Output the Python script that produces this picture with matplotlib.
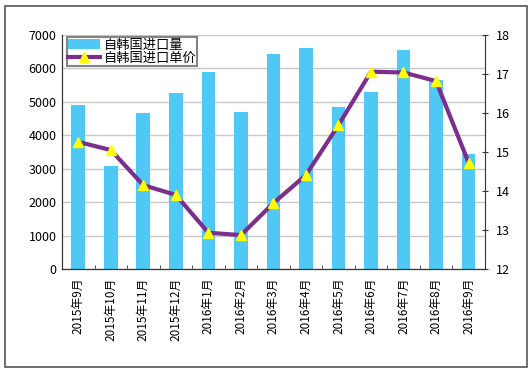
import matplotlib
matplotlib.use("Agg")
import matplotlib.pyplot as plt
from matplotlib.patches import Rectangle

plt.rcParams['font.family'] = ['Noto Sans CJK SC', 'DejaVu Sans']

# Data
months = ['2015年9月', '2015年10月', '2015年11月', '2015年12月', '2016年1月',
          '2016年2月', '2016年3月', '2016年4月', '2016年5月', '2016年6月',
          '2016年7月', '2016年8月', '2016年9月']
volume = [4920, 3080, 4670, 5270, 5890, 4700, 6430, 6610, 4850, 5300, 6550, 5650, 3440]
price = [15.26, 15.05, 14.15, 13.9, 12.93, 12.87, 13.69, 14.41, 15.69, 17.06, 17.04, 16.82, 14.73]

fig = plt.figure(figsize=(5.31, 3.73), dpi=100)
ax = fig.add_axes([0.1168, 0.2788, 0.7962, 0.6272])
ax2 = ax.twinx()

x = list(range(len(months)))
bars = ax.bar(x, volume, width=0.42, color='#4FC8F5', label='自韩国进口量', zorder=2)
line, = ax2.plot(x, price, color='#7B2E8B', linewidth=3, marker='^', markersize=7.5,
                 markerfacecolor='#FFFF00', markeredgecolor='#FFFF00',
                 label='自韩国进口单价', zorder=3)

ax.set_xlim(-0.5, len(months) - 0.5)
ax.set_ylim(0, 7000)
ax.set_yticks(range(0, 7001, 1000))
ax2.set_ylim(12, 18)
ax2.set_yticks(range(12, 19))

ax.grid(axis='y', color='#C8C8C8', linewidth=1, zorder=0)
ax.set_axisbelow(True)

ax.set_xticks(x)
ax.set_xticklabels(months, rotation=90, fontsize=8.5)
ax.tick_params(axis='x', length=0, pad=6)
ax.set_xticks([i + 0.5 for i in x[:-1]], minor=True)
ax.tick_params(axis='x', which='minor', length=3, direction='in', color='#333333')
ax.tick_params(axis='y', length=0, labelsize=9, pad=4)
ax2.tick_params(axis='y', length=4, direction='inout', labelsize=9, pad=6, color='#333333')

for a in (ax, ax2):
    a.spines['top'].set_visible(False)
ax.spines['right'].set_visible(False)
for s in ('left', 'bottom', 'right'):
    ax2.spines[s].set_color('#333333')
ax.spines['left'].set_color('#333333')
ax.spines['bottom'].set_color('#333333')

leg = ax.legend([bars, line], ['自韩国进口量', '自韩国进口单价'], loc='upper left',
                bbox_to_anchor=(0.012, 0.99), fontsize=9.5, frameon=True, fancybox=False,
                borderpad=0.1, labelspacing=0.0, handlelength=2.4, handletextpad=0.25,
                borderaxespad=0.0)
leg.get_frame().set_edgecolor('#666666')
leg.get_frame().set_linewidth(1.5)
leg.set_zorder(5)

# outer border
fig.patches.append(Rectangle((0.01, 0.015), 0.983, 0.97, transform=fig.transFigure,
                             fill=False, edgecolor='#555555', linewidth=1.2))

fig.savefig('out.png', dpi=100)
